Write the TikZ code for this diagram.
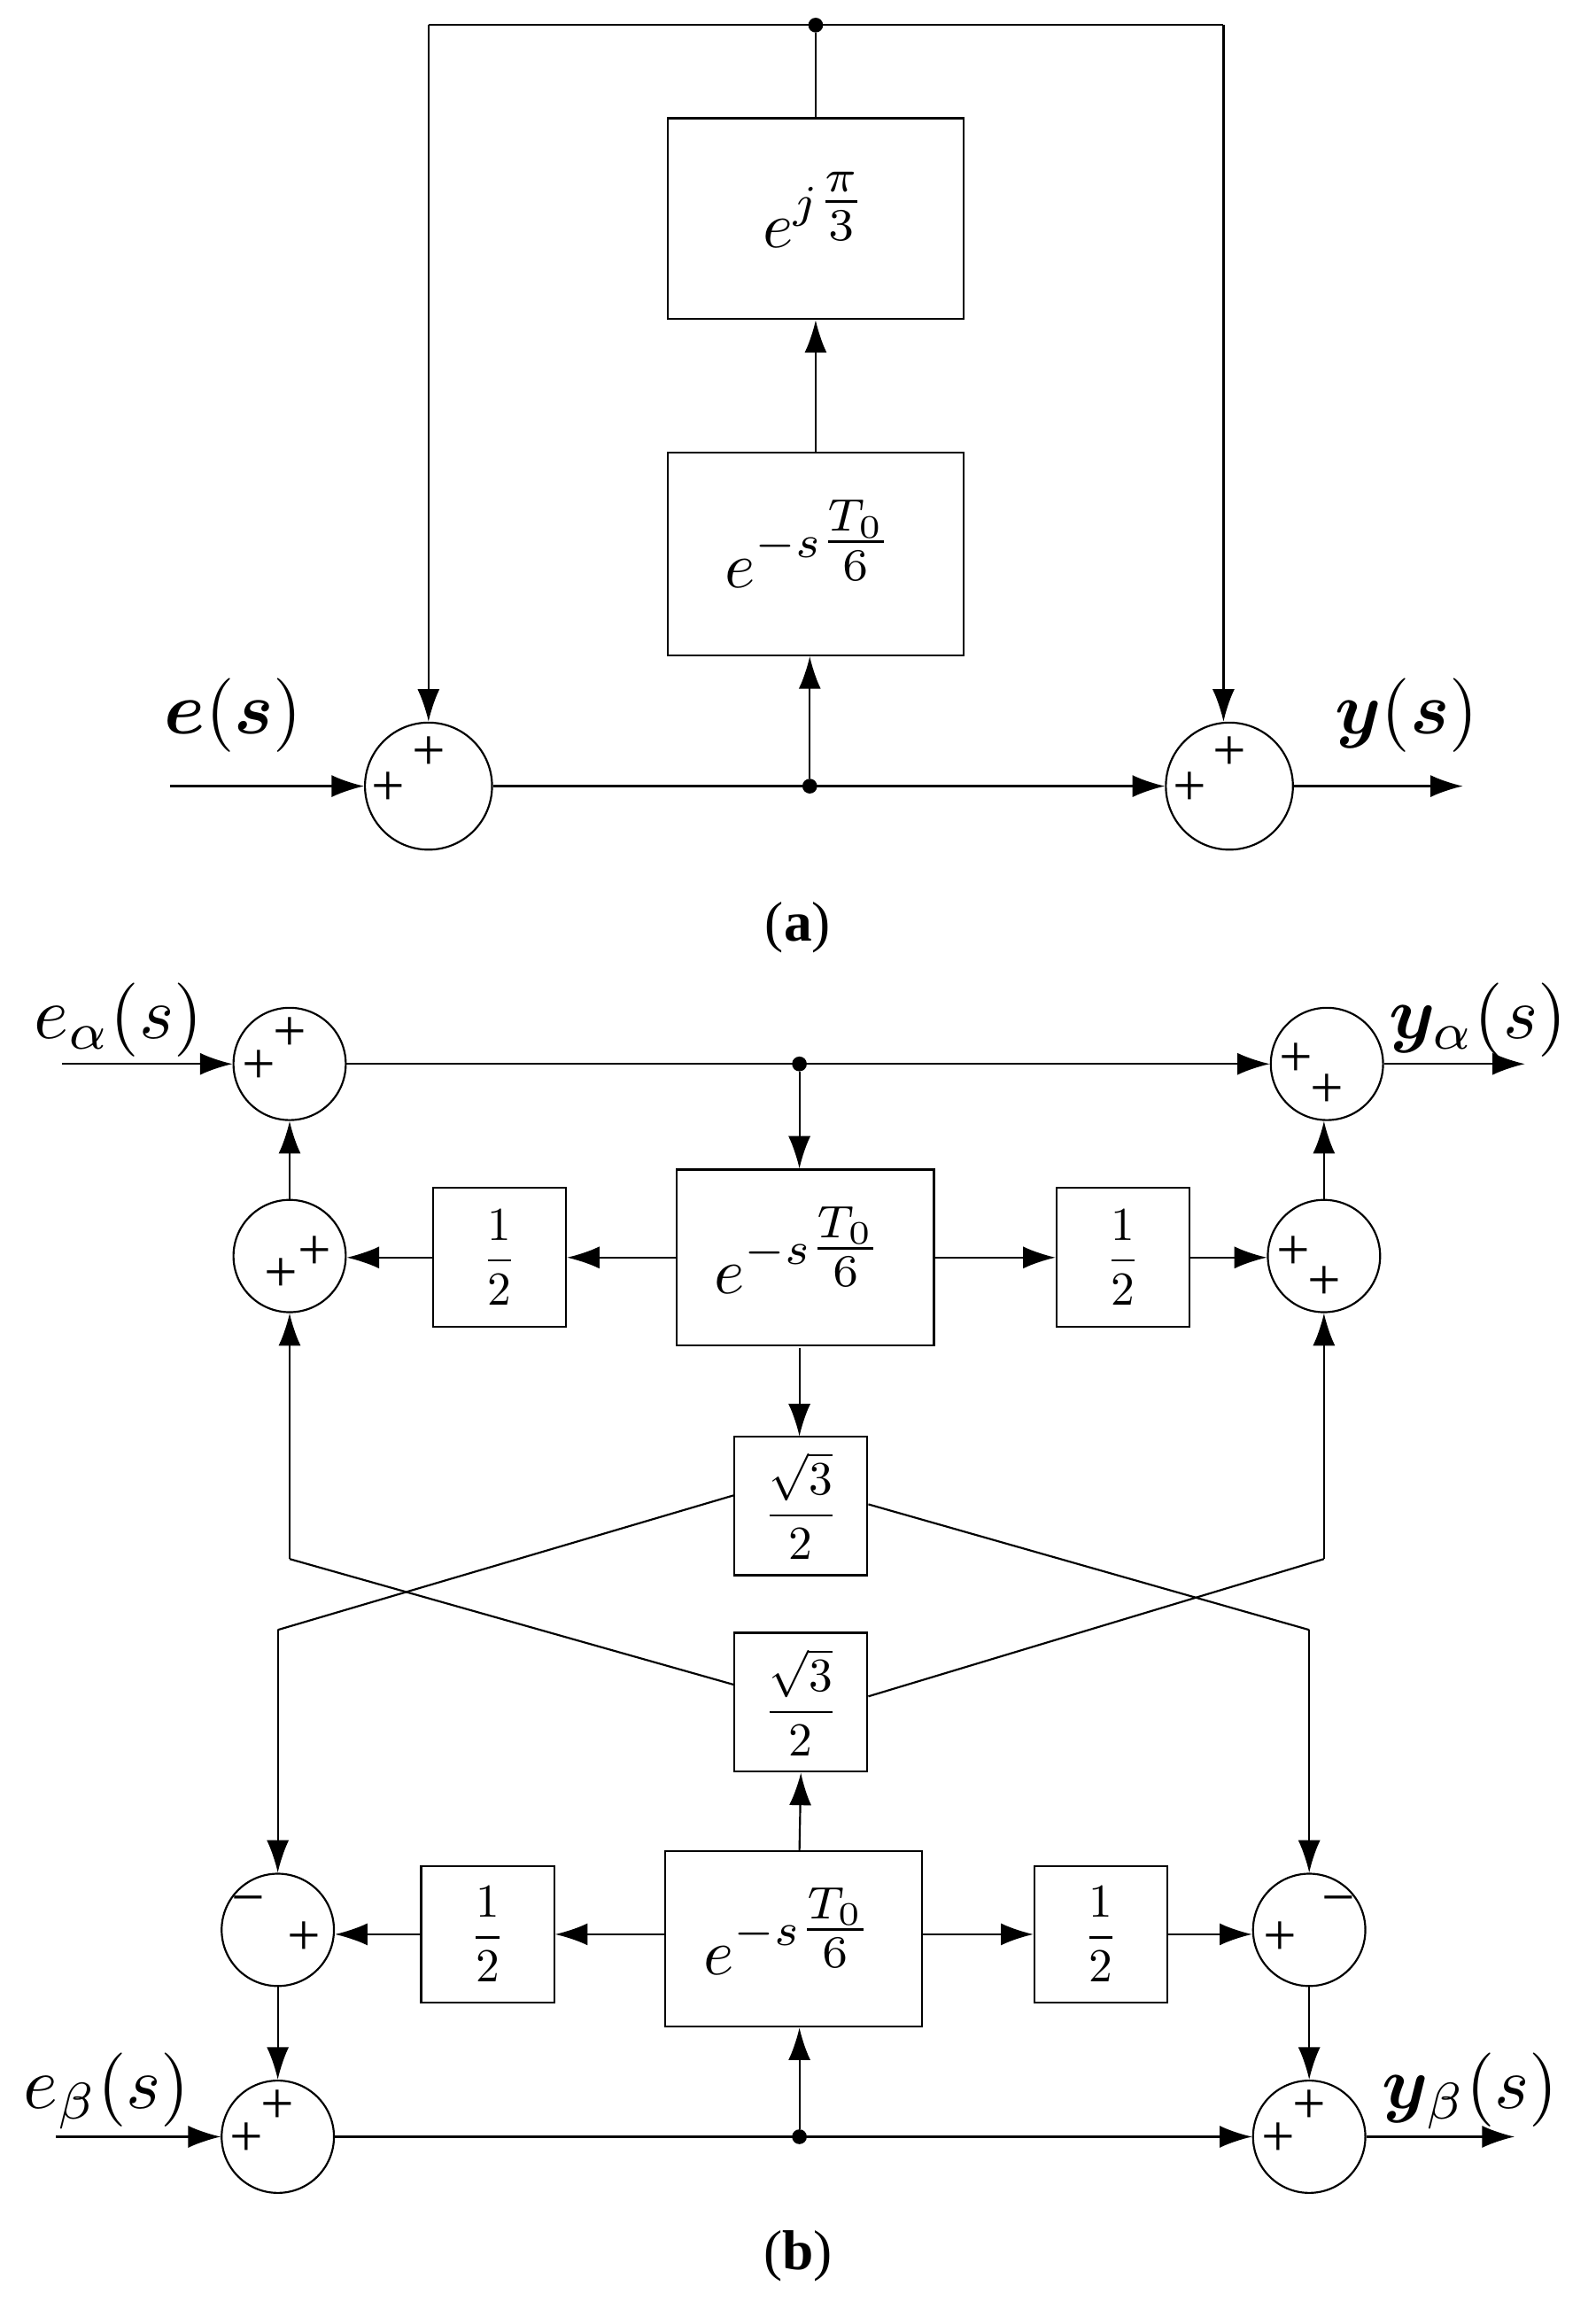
\documentclass[tikz,border=0pt]{standalone}
\usepackage{amsmath,bm}
\usepackage{fontspec}
\setmainfont{Liberation Serif}
\usetikzlibrary{arrows.meta,calc}
\newcommand{\tf}[2]{\genfrac{}{}{}{1}{#1}{#2}}
\begin{document}
\begin{tikzpicture}[x=1pt,y=-1pt,
  box/.style={draw,line width=1.3pt,inner sep=0pt},
  sum/.style={draw,circle,line width=1.3pt,inner sep=0pt},
  ln/.style={line width=1.3pt},
  arr/.style={line width=1.3pt,-{Latex[length=22pt,width=15pt]}},
  dot/.style={circle,fill,inner sep=0pt,minimum size=10pt},
  sg/.style={inner sep=0pt,font=\fontsize{40}{42}\selectfont},
  big/.style={inner sep=0pt,scale=5.0,transform shape},
  lab/.style={font=\fontsize{38}{44}\selectfont},
  ex/.style={inner sep=0pt,scale=4.4,transform shape},
  fr/.style={inner sep=0pt,scale=3.2,transform shape}]
\useasboundingbox (0,0) rectangle (1080,1568);
% ---------- (a)
\node[box,minimum width=200pt,minimum height=136pt] (A1) at (552,148) {};
\node[ex] at (552,142) {$e^{j\tf{\pi}{3}}$};
\node[box,minimum width=200pt,minimum height=137pt] (A2) at (552,375) {};
\node[ex] at (548,368) {$e^{-s\tf{T_0}{6}}$};
\node[sum,minimum size=86pt] (SA) at (290,532) {};
\node[sum,minimum size=86pt] (SB) at (832,532) {};
\node[sg] at (263,534) {+}; \node[sg] at (290,510) {+};
\node[sg] at (805,534) {+}; \node[sg] at (832,510) {+};
\node[dot] (dT) at (552,17) {};
\node[dot] (dM) at (548,532) {};
\coordinate (tl) at (290,17); \coordinate (tr) at (828,17);
\coordinate (inA) at (115,532); \coordinate (outA) at (990,532);
\draw[ln] (dT) -- (A1.north);
\draw[arr] (A2.north) -- (A1.south);
\draw[ln] (tl) -- (tr);
\draw[arr] (tl) -- (SA.north);
\draw[arr] (tr) -- (tr|-SB.north);
\draw[arr] (inA) -- (SA.west);
\draw[arr] (SA.east) -- (SB.west);
\draw[arr] (dM) -- (dM|-A2.south);
\draw[arr] (SB.east) -- (outA);
\node[big] at (158,484) {$\bm{e}(\bm{s})$};
\node[big] at (952,484) {$\bm{y}(\bm{s})$};
\node[lab] at (540,628) {(\textbf{a})};
% ---------- (b)
\node[sum,minimum size=76pt] (S1) at (196,720) {};
\node[sum,minimum size=76pt] (S2) at (898,720) {};
\node[sum,minimum size=76pt] (S3) at (196,850) {};
\node[sum,minimum size=76pt] (S4) at (896,850) {};
\node[sum,minimum size=76pt] (S5) at (188,1306) {};
\node[sum,minimum size=76pt] (S6) at (886,1306) {};
\node[sum,minimum size=76pt] (S7) at (188,1446) {};
\node[sum,minimum size=76pt] (S8) at (886,1446) {};
\node[sg] at (175,722) {+}; \node[sg] at (196,700) {+};
\node[sg] at (877,717) {+}; \node[sg] at (898,738) {+};
\node[sg] at (190,863) {+}; \node[sg] at (213,848) {+};
\node[sg] at (875,848) {+}; \node[sg] at (896,868) {+};
\node[sg] at (168,1290) {−}; \node[sg] at (206,1312) {+};
\node[sg] at (866,1312) {+}; \node[sg] at (906,1290) {−};
\node[sg] at (167,1448) {+}; \node[sg] at (188,1426) {+};
\node[sg] at (865,1448) {+}; \node[sg] at (886,1426) {+};
\node[box,minimum width=174pt,minimum height=119pt] (B1) at (545,851) {};
\node[ex] at (541,846) {$e^{-s\tf{T_0}{6}}$};
\node[box,minimum width=174pt,minimum height=119pt] (B2) at (537,1312) {};
\node[ex] at (534,1307) {$e^{-s\tf{T_0}{6}}$};
\node[box,minimum width=90pt,minimum height=94pt] (H1) at (338,851) {};
\node[fr] at (338,851) {$\dfrac{1}{2}$};
\node[box,minimum width=90pt,minimum height=94pt] (H2) at (760,851) {};
\node[fr] at (760,851) {$\dfrac{1}{2}$};
\node[box,minimum width=90pt,minimum height=92pt] (H3) at (330,1309) {};
\node[fr] at (330,1309) {$\dfrac{1}{2}$};
\node[box,minimum width=90pt,minimum height=92pt] (H4) at (745,1309) {};
\node[fr] at (745,1309) {$\dfrac{1}{2}$};
\node[box,minimum width=90pt,minimum height=94pt] (R1) at (542,1019) {};
\node[fr] at (542,1019) {$\dfrac{\sqrt{3}}{2}$};
\node[box,minimum width=90pt,minimum height=94pt] (R2) at (542,1152) {};
\node[fr] at (542,1152) {$\dfrac{\sqrt{3}}{2}$};
\node[dot] (d1) at (541,720) {};
\node[dot] (d2) at (541,1446) {};
\coordinate (ia) at (42,720); \coordinate (oa) at (1032,720);
\coordinate (ib) at (38,1446); \coordinate (ob) at (1025,1446);
\coordinate (c1) at (188,1103); \coordinate (c2) at (886,1103);
\coordinate (c3) at (196,1055); \coordinate (c4) at (896,1055);
\draw[arr] (ia) -- (S1.west);
\draw[arr] (S1.east) -- (S2.west);
\draw[arr] (S2.east) -- (oa);
\draw[arr] (d1) -- (d1|-B1.north);
\draw[arr] (B1.west|-H1) -- (H1.east);
\draw[arr] (H1.west) -- (H1.west-|S3.east);
\draw[arr] (B1.east|-H2) -- (H2.west);
\draw[arr] (H2.east) -- (H2.east-|S4.west);
\draw[arr] (S3.north) -- (S1.south);
\draw[arr] (S4.north) -- (S4|-S2.south);
\draw[arr] (541,912) -- (541,972);
\draw[ln] (R1.west|-0,1012) -- (c1);
\draw[arr] (c1) -- (S5.north);
\draw[ln] (R1.east|-0,1018) -- (c2);
\draw[arr] (c2) -- (S6.north);
\draw[ln] (R2.west|-0,1140) -- (c3);
\draw[arr] (c3) -- (S3.south);
\draw[ln] (R2.east|-0,1148) -- (c4);
\draw[arr] (c4) -- (S4.south);
\draw[arr] (541,1253) -- (R2.south);
\draw[arr] (B2.west|-H3) -- (H3.east);
\draw[arr] (H3.west) -- (H3.west-|S5.east);
\draw[arr] (B2.east|-H4) -- (H4.west);
\draw[arr] (H4.east) -- (H4.east-|S6.west);
\draw[arr] (S5.south) -- (S7.north);
\draw[arr] (S6.south) -- (S8.north);
\draw[arr] (ib) -- (S7.west);
\draw[arr] (S7.east) -- (S8.west);
\draw[arr] (S8.east) -- (ob);
\draw[arr] (d2) -- (d2|-B2.south);
\node[big] at (80,690) {$e_\alpha(s)$};
\node[big] at (1000,690) {$\bm{y}_\alpha(s)$};
\node[big] at (72,1415) {$e_\beta(s)$};
\node[big] at (995,1415) {$\bm{y}_\beta(s)$};
\node[lab] at (540,1527) {(\textbf{b})};
\end{tikzpicture}
\end{document}
